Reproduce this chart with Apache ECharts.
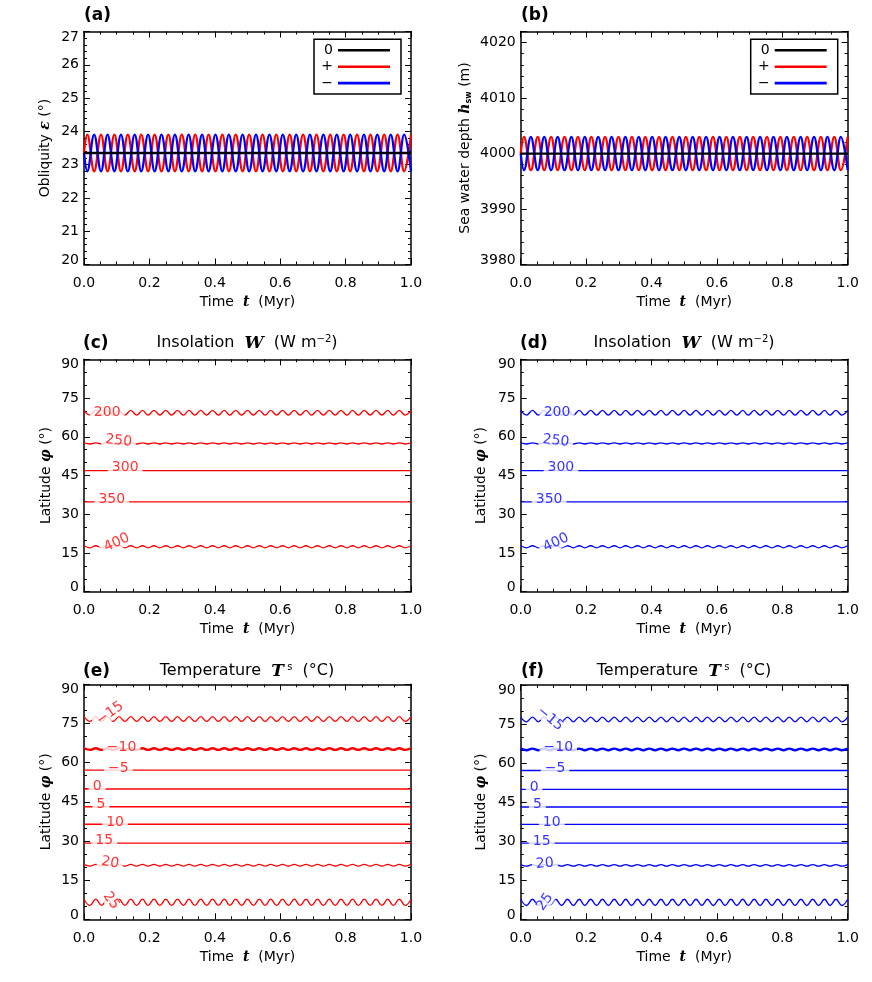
<!DOCTYPE html>
<html><head><meta charset="utf-8">
<script src="https://cdn.jsdelivr.net/npm/echarts@6/dist/echarts.min.js"></script>
<style>html,body{margin:0;padding:0;background:#fff}#c{width:872px;height:982px}</style>
</head><body><div id="c"></div>
<script>
// ---------------- DATA ----------------
// time (Myr) of the extrema of the obliquity / sea-depth oscillation
const tObl = [0,
 0.010, 0.031, 0.052, 0.072, 0.093, 0.113, 0.134, 0.155,
 0.175, 0.196, 0.216, 0.237, 0.258, 0.278, 0.299, 0.320,
 0.340, 0.361, 0.381, 0.402, 0.423, 0.443, 0.464, 0.485,
 0.505, 0.526, 0.546, 0.567, 0.588, 0.608, 0.629, 0.649,
 0.670, 0.691, 0.711, 0.732, 0.753, 0.773, 0.794, 0.814,
 0.835, 0.856, 0.876, 0.897, 0.918, 0.938, 0.959, 0.979,
 1.000];
const tFlat = [0, 1.0];
// (a) obliquity (deg)
const oblZero = [23.35, 23.35];
const oblPlus = [23.35,
 23.9, 22.8, 23.9, 22.8, 23.9, 22.8, 23.9, 22.8,
 23.9, 22.8, 23.9, 22.8, 23.9, 22.8, 23.9, 22.8,
 23.9, 22.8, 23.9, 22.8, 23.9, 22.8, 23.9, 22.8,
 23.9, 22.8, 23.9, 22.8, 23.9, 22.8, 23.9, 22.8,
 23.9, 22.8, 23.9, 22.8, 23.9, 22.8, 23.9, 22.8,
 23.9, 22.8, 23.9, 22.8, 23.9, 22.8, 23.9, 22.8,
 23.9];
const oblMinus = [23.35,
 22.8, 23.9, 22.8, 23.9, 22.8, 23.9, 22.8, 23.9,
 22.8, 23.9, 22.8, 23.9, 22.8, 23.9, 22.8, 23.9,
 22.8, 23.9, 22.8, 23.9, 22.8, 23.9, 22.8, 23.9,
 22.8, 23.9, 22.8, 23.9, 22.8, 23.9, 22.8, 23.9,
 22.8, 23.9, 22.8, 23.9, 22.8, 23.9, 22.8, 23.9,
 22.8, 23.9, 22.8, 23.9, 22.8, 23.9, 22.8, 23.9,
 22.8];
// (b) sea water depth (m)
const depthZero = [4000, 4000];
const depthPlus = [4000,
 4003, 3997, 4003, 3997, 4003, 3997, 4003, 3997,
 4003, 3997, 4003, 3997, 4003, 3997, 4003, 3997,
 4003, 3997, 4003, 3997, 4003, 3997, 4003, 3997,
 4003, 3997, 4003, 3997, 4003, 3997, 4003, 3997,
 4003, 3997, 4003, 3997, 4003, 3997, 4003, 3997,
 4003, 3997, 4003, 3997, 4003, 3997, 4003, 3997,
 4003];
const depthMinus = [4000,
 3997, 4003, 3997, 4003, 3997, 4003, 3997, 4003,
 3997, 4003, 3997, 4003, 3997, 4003, 3997, 4003,
 3997, 4003, 3997, 4003, 3997, 4003, 3997, 4003,
 3997, 4003, 3997, 4003, 3997, 4003, 3997, 4003,
 3997, 4003, 3997, 4003, 3997, 4003, 3997, 4003,
 3997, 4003, 3997, 4003, 3997, 4003, 3997, 4003,
 3997];

// time (Myr) of the extrema of the wavy contour lines
const tCont = [0, 0.018, 0.036, 0.054, 0.071, 0.089, 0.107, 0.125,
 0.143, 0.161, 0.179, 0.196, 0.214, 0.232, 0.250, 0.268,
 0.286, 0.304, 0.321, 0.339, 0.357, 0.375, 0.393, 0.411,
 0.429, 0.446, 0.464, 0.482, 0.500, 0.518, 0.536, 0.554,
 0.571, 0.589, 0.607, 0.625, 0.643, 0.661, 0.679, 0.696,
 0.714, 0.732, 0.750, 0.768, 0.786, 0.804, 0.821, 0.839,
 0.857, 0.875, 0.893, 0.911, 0.929, 0.946, 0.964, 0.982,
 1.000];

// (c,d) insolation contours: latitude (deg) of each level
const insolLevels = ['200', '250', '300', '350', '400'];
const insol200 = [70.2, 68.4, 70.2, 68.4, 70.2, 68.4, 70.2, 68.4,
 70.2, 68.4, 70.2, 68.4, 70.2, 68.4, 70.2, 68.4,
 70.2, 68.4, 70.2, 68.4, 70.2, 68.4, 70.2, 68.4,
 70.2, 68.4, 70.2, 68.4, 70.2, 68.4, 70.2, 68.4,
 70.2, 68.4, 70.2, 68.4, 70.2, 68.4, 70.2, 68.4,
 70.2, 68.4, 70.2, 68.4, 70.2, 68.4, 70.2, 68.4,
 70.2, 68.4, 70.2, 68.4, 70.2, 68.4, 70.2, 68.4,
 70.2];
const insol250 = [57.6, 57.2, 57.6, 57.2, 57.6, 57.2, 57.6, 57.2,
 57.6, 57.2, 57.6, 57.2, 57.6, 57.2, 57.6, 57.2,
 57.6, 57.2, 57.6, 57.2, 57.6, 57.2, 57.6, 57.2,
 57.6, 57.2, 57.6, 57.2, 57.6, 57.2, 57.6, 57.2,
 57.6, 57.2, 57.6, 57.2, 57.6, 57.2, 57.6, 57.2,
 57.6, 57.2, 57.6, 57.2, 57.6, 57.2, 57.6, 57.2,
 57.6, 57.2, 57.6, 57.2, 57.6, 57.2, 57.6, 57.2,
 57.6];
const insol300 = [46.9, 46.9];
const insol350 = [34.8, 34.8];
const insol400 = [17.8, 17.0, 17.8, 17.0, 17.8, 17.0, 17.8, 17.0,
 17.8, 17.0, 17.8, 17.0, 17.8, 17.0, 17.8, 17.0,
 17.8, 17.0, 17.8, 17.0, 17.8, 17.0, 17.8, 17.0,
 17.8, 17.0, 17.8, 17.0, 17.8, 17.0, 17.8, 17.0,
 17.8, 17.0, 17.8, 17.0, 17.8, 17.0, 17.8, 17.0,
 17.8, 17.0, 17.8, 17.0, 17.8, 17.0, 17.8, 17.0,
 17.8, 17.0, 17.8, 17.0, 17.8, 17.0, 17.8, 17.0,
 17.8];

// (e,f) temperature contours: latitude (deg) of each level
const tempLevels = ['\u221215', '\u221210', '\u22125', '0', '5', '10', '15', '20', '25'];
const tempM15 = [77.6, 75.8, 77.6, 75.8, 77.6, 75.8, 77.6, 75.8,
 77.6, 75.8, 77.6, 75.8, 77.6, 75.8, 77.6, 75.8,
 77.6, 75.8, 77.6, 75.8, 77.6, 75.8, 77.6, 75.8,
 77.6, 75.8, 77.6, 75.8, 77.6, 75.8, 77.6, 75.8,
 77.6, 75.8, 77.6, 75.8, 77.6, 75.8, 77.6, 75.8,
 77.6, 75.8, 77.6, 75.8, 77.6, 75.8, 77.6, 75.8,
 77.6, 75.8, 77.6, 75.8, 77.6, 75.8, 77.6, 75.8,
 77.6];
const tempM10 = [65.5, 64.9, 65.5, 64.9, 65.5, 64.9, 65.5, 64.9,
 65.5, 64.9, 65.5, 64.9, 65.5, 64.9, 65.5, 64.9,
 65.5, 64.9, 65.5, 64.9, 65.5, 64.9, 65.5, 64.9,
 65.5, 64.9, 65.5, 64.9, 65.5, 64.9, 65.5, 64.9,
 65.5, 64.9, 65.5, 64.9, 65.5, 64.9, 65.5, 64.9,
 65.5, 64.9, 65.5, 64.9, 65.5, 64.9, 65.5, 64.9,
 65.5, 64.9, 65.5, 64.9, 65.5, 64.9, 65.5, 64.9,
 65.5];
const tempM5 = [57.1, 57.1];
const temp0 = [49.9, 49.9];
const temp5 = [43.1, 43.1];
const temp10 = [36.4, 36.4];
const temp15 = [29.2, 29.2];
const temp20 = [21.0, 20.4, 21.0, 20.4, 21.0, 20.4, 21.0, 20.4,
 21.0, 20.4, 21.0, 20.4, 21.0, 20.4, 21.0, 20.4,
 21.0, 20.4, 21.0, 20.4, 21.0, 20.4, 21.0, 20.4,
 21.0, 20.4, 21.0, 20.4, 21.0, 20.4, 21.0, 20.4,
 21.0, 20.4, 21.0, 20.4, 21.0, 20.4, 21.0, 20.4,
 21.0, 20.4, 21.0, 20.4, 21.0, 20.4, 21.0, 20.4,
 21.0, 20.4, 21.0, 20.4, 21.0, 20.4, 21.0, 20.4,
 21.0];
const temp25 = [7.7, 5.3, 7.7, 5.3, 7.7, 5.3, 7.7, 5.3,
 7.7, 5.3, 7.7, 5.3, 7.7, 5.3, 7.7, 5.3,
 7.7, 5.3, 7.7, 5.3, 7.7, 5.3, 7.7, 5.3,
 7.7, 5.3, 7.7, 5.3, 7.7, 5.3, 7.7, 5.3,
 7.7, 5.3, 7.7, 5.3, 7.7, 5.3, 7.7, 5.3,
 7.7, 5.3, 7.7, 5.3, 7.7, 5.3, 7.7, 5.3,
 7.7, 5.3, 7.7, 5.3, 7.7, 5.3, 7.7, 5.3,
 7.7];

// contour label anchors (data coordinates: time, latitude) and rotation
const insolLabT_c = [0.071, 0.106, 0.126, 0.085, 0.100];
const insolLabT_d = [0.111, 0.108, 0.123, 0.087, 0.108];
const insolLabLat = [69.5, 58.4, 48.0, 35.8, 19.0];
const insolLabRot_c = [0, -6, 0, 0, 25];
const insolLabRot_d = [0, -6, 0, 0, 25];
const tempLabT_e = [0.080, 0.115, 0.105, 0.040, 0.052, 0.095, 0.062, 0.080, 0.083];
const tempLabT_f = [0.090, 0.115, 0.105, 0.041, 0.051, 0.095, 0.064, 0.074, 0.074];
const tempLabLat_e = [78.9, 65.9, 57.8, 50.8, 44.1, 37.3, 30.1, 21.7, 7.1];
const tempLabLat_f = [77.0, 66.1, 57.8, 50.8, 44.1, 37.3, 30.1, 21.4, 6.7];
const tempLabRot_e = [36, 0, 0, 0, 0, 0, 0, -10, -55];
const tempLabRot_f = [-40, 0, 0, 0, 0, 0, 0, 5, 55];

// ---------------- LAYOUT / STYLE ----------------
const FONT = '"DejaVu Sans", sans-serif';
const SERIF = '"DejaVu Serif", serif';
const RED = '#ff0000', BLUE = '#0000ff', BLACK = '#000000';
const grids = [
  {left: 84, top: 31.5, width: 327, height: 233},
  {left: 520.7, top: 31.5, width: 327, height: 233},
  {left: 84, top: 359.3, width: 327, height: 232.4},
  {left: 520.7, top: 359.3, width: 327, height: 232.4},
  {left: 84, top: 684.3, width: 327, height: 235},
  {left: 520.7, top: 684.8, width: 327, height: 234.5}
];

const richIt = {fontFamily: SERIF, fontStyle: 'italic', fontWeight: 'bold', fontSize: 14, color: '#000'};
const axisLineSt = {show: true, onZero: false, lineStyle: {color: '#000', width: 1.5}};

function xAxesFor(gi) {
  const common = {type: 'value', gridIndex: gi, min: 0, max: 1, interval: 0.2,
    axisLine: axisLineSt,
    axisTick: {show: true, inside: true, length: 6, lineStyle: {color: '#000', width: 1}},
    minorTick: {show: true, splitNumber: 4, length: 3, lineStyle: {color: '#000', width: 1}},
    splitLine: {show: false}, minorSplitLine: {show: false}};
  return [
    Object.assign({}, common, {position: 'bottom',
      axisLabel: {show: true, margin: 12, color: '#000', fontSize: 14, fontFamily: FONT,
        formatter: v => v.toFixed(1)},
      name: 'Time  {t|t}  (Myr)', nameLocation: 'middle', nameGap: 31,
      nameTextStyle: {color: '#000', fontSize: 14, fontFamily: FONT, rich: {t: richIt}}}),
    Object.assign({}, common, {position: 'top', axisLabel: {show: false}})
  ];
}
function yAxesFor(gi, min, max, interval, minorSplit, name, nameGap, hideMax) {
  const common = {type: 'value', gridIndex: gi, min: min, max: max, interval: interval,
    axisLine: axisLineSt,
    axisTick: {show: true, inside: true, length: 6, lineStyle: {color: '#000', width: 1}},
    minorTick: {show: true, splitNumber: minorSplit, length: 3, lineStyle: {color: '#000', width: 1}},
    splitLine: {show: false}, minorSplitLine: {show: false}};
  return [
    Object.assign({}, common, {position: 'left',
      axisLabel: {show: true, margin: 5, color: '#000', fontSize: 14, fontFamily: FONT,
        showMaxLabel: !hideMax,
        formatter: v => v === min ? '{mn|' + v + '}' : (v === max ? '{mx|' + v + '}' : String(v)),
        rich: {mn: {fontSize: 14, fontFamily: FONT, color: '#000', padding: [0, 0, 8, 0]},
               mx: {fontSize: 14, fontFamily: FONT, color: '#000', padding: [11, 0, 0, 0]}}},
      name: name, nameLocation: 'middle', nameGap: nameGap,
      nameTextStyle: {color: '#000', fontSize: 14, fontFamily: FONT,
        rich: {g: richIt, h: richIt, s: {fontFamily: FONT, fontSize: 8, color: '#000', fontWeight: 'bold', verticalAlign: 'bottom', padding: [6, 0, 0, 0]}}}}),
    Object.assign({}, common, {position: 'right', axisLabel: {show: false}})
  ];
}

const xAxis = [], yAxis = [];
for (let i = 0; i < 6; i++) xAxis.push(...xAxesFor(i));
yAxis.push(...yAxesFor(0, 20, 27, 1, 5, 'Obliquity {g|\u03b5} (\u00b0)', 32, false));
yAxis.push(...yAxesFor(1, 3980, 4022, 10, 5, 'Sea water depth {h|h}{s|sw} (m)', 48, true));
yAxis.push(...yAxesFor(2, 0, 90, 15, 3, 'Latitude {g|\u03c6} (\u00b0)', 31, false));
yAxis.push(...yAxesFor(3, 0, 90, 15, 3, 'Latitude {g|\u03c6} (\u00b0)', 32, false));
yAxis.push(...yAxesFor(4, 0, 90, 15, 3, 'Latitude {g|\u03c6} (\u00b0)', 31, false));
yAxis.push(...yAxesFor(5, 0, 90, 15, 3, 'Latitude {g|\u03c6} (\u00b0)', 32, false));

function zip(t, v) { return t.map((x, i) => [x, v[i]]); }
function lineS(gi, name, t, v, color, width) {
  return {type: 'line', name: name, xAxisIndex: 2 * gi, yAxisIndex: 2 * gi,
    data: zip(t, v), smooth: 0.4, symbol: 'none', showSymbol: false, silent: true,
    lineStyle: {color: color, width: width}, itemStyle: {color: color}, z: 3};
}
function labelS(gi, names, ts, lats, rots, color) {
  return {type: 'scatter', xAxisIndex: 2 * gi, yAxisIndex: 2 * gi, symbolSize: 0.1,
    itemStyle: {color: 'rgba(0,0,0,0)'}, silent: true, z: 10,
    label: {show: true, position: 'inside', formatter: '{b}', color: color, fontSize: 14,
      fontFamily: FONT, backgroundColor: '#fff', padding: [0, 4]},
    data: names.map((n, i) => ({name: n, value: [ts[i], lats[i]], label: {rotate: rots[i]}}))};
}

const series = [];
// (a)
series.push(lineS(0, '+', tObl, oblPlus, RED, 2.3));
series.push(lineS(0, '\u2212', tObl, oblMinus, BLUE, 2.3));
series.push(lineS(0, '0', tFlat, oblZero, BLACK, 2.3));
// (b)
series.push(lineS(1, '+', tObl, depthPlus, RED, 2.3));
series.push(lineS(1, '\u2212', tObl, depthMinus, BLUE, 2.3));
series.push(lineS(1, '0', tFlat, depthZero, BLACK, 2.3));
// (c), (d)
const insolData = [[tCont, insol200], [tCont, insol250], [tFlat, insol300], [tFlat, insol350], [tCont, insol400]];
[[2, RED], [3, BLUE]].forEach(([gi, col]) => {
  insolData.forEach(([t, v]) => series.push(lineS(gi, null, t, v, col, 1.3)));
});
series.push(labelS(2, insolLevels, insolLabT_c, insolLabLat, insolLabRot_c, RED));
series.push(labelS(3, insolLevels, insolLabT_d, insolLabLat, insolLabRot_d, BLUE));
// (e), (f)
const tempData = [[tCont, tempM15], [tCont, tempM10], [tFlat, tempM5], [tFlat, temp0], [tFlat, temp5],
  [tFlat, temp10], [tFlat, temp15], [tCont, temp20], [tCont, temp25]];
[[4, RED], [5, BLUE]].forEach(([gi, col]) => {
  tempData.forEach(([t, v], k) => series.push(lineS(gi, null, t, v, col, k === 1 ? 2.4 : 1.3)));
});
series.push(labelS(4, tempLevels, tempLabT_e, tempLabLat_e, tempLabRot_e, RED));
series.push(labelS(5, tempLevels, tempLabT_f, tempLabLat_f, tempLabRot_f, BLUE));

function legendAt(left) {
  return {data: [{name: '0', icon: 'rect'}, {name: '+', icon: 'rect'}, {name: '\u2212', icon: 'rect'}],
    left: left, top: 39.3, orient: 'vertical', align: 'right',
    itemWidth: 52, itemHeight: 2.6, itemGap: 2.4, padding: [4, 11, 4, 7],
    borderColor: '#000', borderWidth: 1.5, backgroundColor: '#fff', selectedMode: false,
    textStyle: {fontSize: 14, fontFamily: FONT, color: '#000', width: 12, lineHeight: 14}};
}

function txt(x, y, text, font, align, rich) {
  return {type: 'text', x: x, y: y, silent: true,
    style: {text: text, font: font, fill: '#000', align: align, verticalAlign: 'middle',
      textAlign: align, textVerticalAlign: 'middle', rich: rich}};
}
const titleRich = {
  w: {fontFamily: SERIF, fontStyle: 'italic', fontWeight: 'bold', fontSize: 17, fill: '#000', color: '#000'},
  sup: {fontFamily: FONT, fontSize: 10, fill: '#000', color: '#000', verticalAlign: 'top', padding: [0, 0, 8, 0]}
};
const graphic = [
  txt(84, 15.7, '(a)', 'bold 17px "DejaVu Sans"', 'left'),
  txt(521, 15.7, '(b)', 'bold 17px "DejaVu Sans"', 'left'),
  txt(83, 343.3, '(c)', 'bold 17px "DejaVu Sans"', 'left'),
  txt(520, 343.3, '(d)', 'bold 17px "DejaVu Sans"', 'left'),
  txt(83, 671.3, '(e)', 'bold 17px "DejaVu Sans"', 'left'),
  txt(521, 671.3, '(f)', 'bold 17px "DejaVu Sans"', 'left'),
  txt(247, 343.3, 'Insolation  {w|W}  (W m{sup|\u22122})', '16px "DejaVu Sans"', 'center', titleRich),
  txt(684, 343.3, 'Insolation  {w|W}  (W m{sup|\u22122})', '16px "DejaVu Sans"', 'center', titleRich),
  txt(247, 671.3, 'Temperature  {w|T}{sup| s}  (\u00b0C)', '16px "DejaVu Sans"', 'center', titleRich),
  txt(684, 671.3, 'Temperature  {w|T}{sup| s}  (\u00b0C)', '16px "DejaVu Sans"', 'center', titleRich)
];

const chart = echarts.init(document.getElementById('c'), null, {renderer: 'canvas'});
chart.setOption({
  animation: false,
  backgroundColor: '#fff',
  textStyle: {fontFamily: FONT},
  grid: grids.map(g => Object.assign({containLabel: false, outerBoundsMode: 'none'}, g)),
  xAxis: xAxis,
  yAxis: yAxis,
  legend: [legendAt(314), legendAt(750.7)],
  graphic: graphic,
  series: series
});
</script>
</body></html>
